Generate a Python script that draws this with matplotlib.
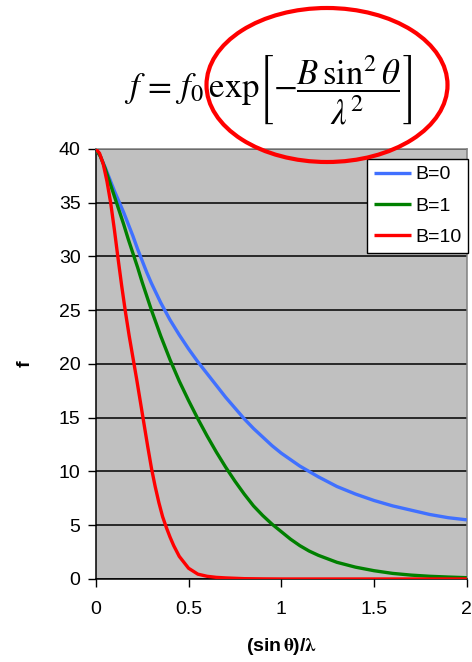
import numpy as np
import matplotlib.pyplot as plt
from matplotlib.patches import Ellipse

plt.rcParams['font.family'] = ['Liberation Sans', 'DejaVu Sans']
plt.rcParams['mathtext.fontset'] = 'stix'

# values
x_b0 = [0, 0.025, 0.05, 0.075, 0.1, 0.125, 0.15, 0.175, 0.2, 0.225, 0.25, 0.275, 0.3,
        0.325, 0.35, 0.375, 0.4, 0.45, 0.5, 0.55, 0.6, 0.65, 0.7, 0.75, 0.8, 0.85, 0.9,
        0.95, 1.0, 1.05, 1.1, 1.15, 1.2, 1.3, 1.4, 1.5, 1.6, 1.7, 1.8, 1.9, 2.0]
f_b0 = [40, 39.3, 38.3, 37.2, 36.1, 35.1, 34.1, 33.0, 31.9, 30.7, 29.6, 28.5, 27.5,
        26.6, 25.7, 24.9, 24.1, 22.7, 21.4, 20.2, 19.1, 18.0, 16.9, 15.9, 14.9, 14.0, 13.2,
        12.4, 11.7, 11.1, 10.5, 10.0, 9.5, 8.6, 7.9, 7.3, 6.8, 6.4, 6.0, 5.7, 5.5]

x_b1 = [0, 0.025, 0.05, 0.075, 0.1, 0.125, 0.15, 0.175, 0.2, 0.225, 0.25, 0.275, 0.3,
        0.325, 0.35, 0.375, 0.4, 0.45, 0.5, 0.55, 0.6, 0.65, 0.7, 0.75, 0.8, 0.85, 0.9,
        0.95, 1.0, 1.05, 1.1, 1.15, 1.2, 1.3, 1.4, 1.5, 1.6, 1.7, 1.8, 1.9, 2.0]
f_b1 = [40, 39.3, 38.2, 36.9, 35.6, 34.3, 33.0, 31.6, 30.3, 29.0, 27.6, 26.3, 25.0,
        23.8, 22.6, 21.5, 20.4, 18.4, 16.6, 14.9, 13.3, 11.8, 10.4, 9.1, 7.9, 6.8, 5.9,
        5.1, 4.4, 3.7, 3.1, 2.6, 2.2, 1.55, 1.1, 0.77, 0.52, 0.36, 0.25, 0.18, 0.12]

x_b10 = [0, 0.02, 0.04, 0.06, 0.08, 0.1, 0.12, 0.14, 0.16, 0.18, 0.2, 0.22, 0.24, 0.26,
         0.28, 0.3, 0.32, 0.34, 0.36, 0.38, 0.4, 0.42, 0.45, 0.5, 0.55, 0.6, 0.65, 0.7,
         0.8, 0.9, 1.0, 1.5, 2.0]
f_b10 = [40, 39.6, 38.6, 37.0, 35.0, 32.5, 29.8, 27.2, 24.8, 22.6, 20.6, 18.6, 16.5, 14.4,
         12.3, 10.3, 8.6, 7.1, 5.8, 4.8, 3.9, 3.1, 2.1, 1.0, 0.45, 0.25, 0.15, 0.1,
         0.03, 0.01, 0, 0, 0]

labels = ['B=0', 'B=1', 'B=10']
colors = ['#4070FF', '#008000', '#FF0000']

fig = plt.figure(figsize=(4.72, 6.62), dpi=100)
ax = fig.add_axes([0.203, 0.1254, 0.786, 0.6496])
ax.set_facecolor('#C0C0C0')

for xs, ys, lab, c in zip([x_b0, x_b1, x_b10], [f_b0, f_b1, f_b10], labels, colors):
    ax.plot(xs, ys, color=c, lw=2.4, label=lab, solid_capstyle='butt', zorder=3)

ax.set_xlim(0, 2)
ax.set_ylim(0, 40)
ax.set_xticks([0, 0.5, 1, 1.5, 2])
ax.set_xticklabels(['0', '0.5', '1', '1.5', '2'])
ax.set_yticks(np.arange(0, 41, 5))
ax.yaxis.grid(True, color='black', lw=1.1)
ax.set_axisbelow(True)
ax.tick_params(axis='both', labelsize=14, direction='out', length=6, width=1, color='black')
ax.tick_params(axis='x', pad=10)
ax.tick_params(axis='y', pad=5)
for s in ['left', 'bottom']:
    ax.spines[s].set_color('black')
    ax.spines[s].set_linewidth(1.1)
for s in ['top', 'right']:
    ax.spines[s].set_color('#808080')
    ax.spines[s].set_linewidth(1.1)

ax.set_xlabel(r'(sin$\,\mathbf{\theta}$)/$\mathbf{\lambda}$', fontsize=14, fontweight='bold', labelpad=13)
ax.set_ylabel('f', fontsize=14, fontweight='bold')
ax.yaxis.set_label_coords(-0.168, 0.5)

leg = ax.legend(loc='upper right', bbox_to_anchor=(0.9915, 0.7598), bbox_transform=fig.transFigure,
                fancybox=False, framealpha=1, edgecolor='black', fontsize=14,
                handlelength=1.9, handletextpad=0.2, labelspacing=0.7, borderpad=0.35,
                borderaxespad=0)
leg.get_frame().set_linewidth(1)

fig.text(0.568, 0.866, r'$f\,=\,f_0\,\exp\!\left[-\dfrac{B\,\sin^2\theta}{\lambda^2}\right]$',
         fontsize=25, ha='center', va='center')

ell = Ellipse((327 / 472, 1 - 85 / 662), 241 / 472, 154 / 662, transform=fig.transFigure,
              fill=False, edgecolor='#FF0000', lw=3, zorder=10)
fig.patches.append(ell)

fig.savefig('out.png', dpi=100)
